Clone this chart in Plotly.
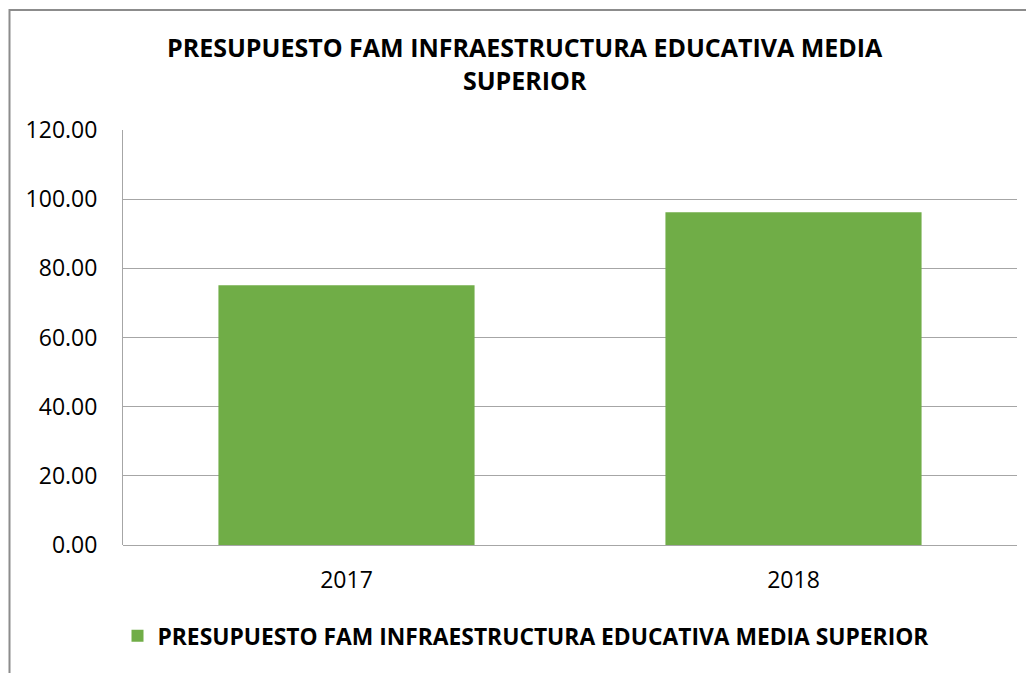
import plotly.graph_objects as go

# Data
years = ["2017", "2018"]
presupuesto = [75.1, 96.2]
serie_nombre = "PRESUPUESTO FAM INFRAESTRUCTURA EDUCATIVA MEDIA SUPERIOR"
titulo = "PRESUPUESTO FAM INFRAESTRUCTURA EDUCATIVA MEDIA<br>SUPERIOR"
y_ticks = [0, 20, 40, 60, 80, 100, 120]

# page offset of the plot div (default body margin)
OFF = 8
W, H = 1034, 673
L, R, T, B = 123 - OFF, 17 + OFF, 130 - OFF, 128 + OFF
pw, ph = W - L - R, H - T - B

def px_x(x):
    return (x - OFF - L) / pw

def px_y(y):
    return (H - B - (y - OFF)) / ph

FONT = "Open Sans"
GRID = "#a6a6a6"

fig = go.Figure()

fig.add_trace(
    go.Bar(
        x=years,
        y=presupuesto,
        name=serie_nombre,
        marker=dict(color="#70ad47", line=dict(width=0)),
    )
)

fig.update_layout(
    width=W,
    height=H,
    margin=dict(l=L, r=R, t=T, b=B),
    paper_bgcolor="white",
    plot_bgcolor="white",
    bargap=0.427,
    font=dict(family=FONT, size=23, color="#000000"),
    showlegend=True,
    legend=dict(
        orientation="h",
        x=px_x(526),
        xanchor="center",
        y=px_y(636),
        yanchor="middle",
        font=dict(family=FONT, size=22.8, color="#000000", weight="bold"),
        itemwidth=30,
    ),
    xaxis=dict(
        showgrid=False,
        showline=False,
        ticks="",
        ticklabelstandoff=19,
        tickfont=dict(family=FONT, size=23),
    ),
    yaxis=dict(
        range=[0, 120],
        tickvals=y_ticks,
        tickformat=".2f",
        showgrid=True,
        gridcolor=GRID,
        gridwidth=1,
        showline=True,
        linecolor=GRID,
        linewidth=1,
        zeroline=True,
        zerolinecolor=GRID,
        zerolinewidth=1,
        ticks="",
        ticklabelstandoff=20,
        tickfont=dict(family=FONT, size=23),
    ),
    annotations=[
        dict(
            text="<b>" + titulo + "</b>",
            xref="paper",
            yref="paper",
            x=px_x(525),
            y=px_y(64),
            xanchor="center",
            yanchor="middle",
            showarrow=False,
            align="center",
            font=dict(family=FONT, size=25, color="#000000"),
        )
    ],
    shapes=[
        # outer chart frame (extends past the right and bottom edges)
        dict(
            type="rect",
            xref="paper",
            yref="paper",
            x0=px_x(9.5),
            x1=px_x(1060),
            y0=px_y(700),
            y1=px_y(10),
            line=dict(color="#8c8c8c", width=2),
            fillcolor="rgba(0,0,0,0)",
            layer="below",
        )
    ],
)

fig.write_html("out.html")
